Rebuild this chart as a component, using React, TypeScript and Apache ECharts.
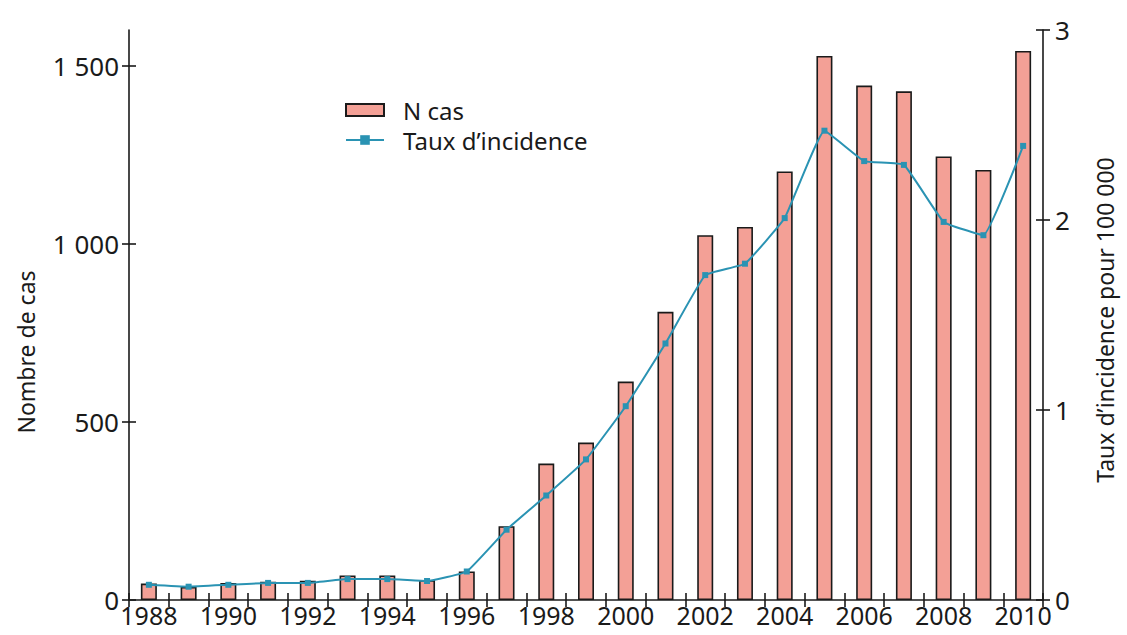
import React, { useEffect, useRef } from "react";
import * as echarts from "echarts";

const years = ["1988","1989","1990","1991","1992","1993","1994","1995","1996","1997","1998","1999","2000","2001","2002","2003","2004","2005","2006","2007","2008","2009","2010"];
const nCas = [46, 37, 48, 51, 54, 69, 69, 56, 80, 207, 383, 442, 613, 809, 1024, 1047, 1203, 1527, 1444, 1428, 1245, 1207, 1541];
const taux = [0.08, 0.07, 0.08, 0.09, 0.09, 0.11, 0.11, 0.10, 0.15, 0.37, 0.55, 0.74, 1.02, 1.35, 1.71, 1.77, 2.01, 2.47, 2.31, 2.29, 1.99, 1.92, 2.39];
const leftTicks = [0, 500, 1000, 1500];
const rightTicks = [0, 1, 2, 3];

const FONT = "Noto Sans";
const INK = "#1a1a1a";

export default function App() {
  const ref = useRef<HTMLDivElement>(null);
  useEffect(() => {
    if (!ref.current) return;
    const chart = echarts.init(ref.current, undefined, { renderer: "svg" });
    const axisLine = { show: true, lineStyle: { color: INK, width: 1.6 } };
    const fmt = (v: number) => String(v).replace(/\B(?=(\d{3})+(?!\d))/g, " ");
    chart.setOption({
      animation: false,
      textStyle: { fontFamily: FONT },
      grid: { left: 129, right: 84, top: 30, bottom: 35 },
      legend: {
        orient: "vertical",
        left: 340,
        top: 93,
        itemWidth: 38,
        itemHeight: 12,
        itemGap: 6,
        textStyle: { fontFamily: FONT, fontSize: 24, lineHeight: 24, color: INK, padding: [0, 0, 0, 14] },
        data: [
          { name: "N cas", icon: "rect" },
          { name: "Taux d’incidence" },
        ],
      },
      xAxis: [
        {
          type: "category",
          data: years,
          boundaryGap: true,
          axisLine,
          axisTick: { show: true, interval: 0, length: 7, lineStyle: { color: INK, width: 1.6 } },
          axisLabel: { interval: 1, fontSize: 25, lineHeight: 22, color: INK, margin: 4, fontFamily: FONT },
        },
        {
          type: "category",
          data: years,
          position: "bottom",
          boundaryGap: true,
          axisLine: { show: false },
          axisTick: { show: true, inside: true, interval: 0, length: 7, lineStyle: { color: INK, width: 1.6 } },
          axisLabel: { show: false },
        },
      ],
      yAxis: [
        {
          type: "value",
          position: "left",
          min: 0,
          max: 1600,
          interval: 500,
          splitLine: { show: false },
          axisLine,
          axisTick: { show: true, length: 7, customValues: leftTicks, lineStyle: { color: INK, width: 1.6 } },
          axisLabel: { customValues: leftTicks, fontSize: 26, color: INK, margin: 10, formatter: fmt, fontFamily: FONT },
        },
        {
          type: "value",
          position: "right",
          min: 0,
          max: 3,
          interval: 1,
          splitLine: { show: false },
          axisLine,
          axisTick: { show: true, length: 7, customValues: rightTicks, lineStyle: { color: INK, width: 1.6 } },
          axisLabel: { customValues: rightTicks, fontSize: 26, color: INK, margin: 12, fontFamily: FONT },
        },
        {
          type: "value",
          position: "left",
          min: 0,
          max: 1600,
          interval: 500,
          splitLine: { show: false },
          axisLine: { show: false },
          axisTick: { show: true, inside: true, length: 7, customValues: leftTicks, lineStyle: { color: INK, width: 1.6 } },
          axisLabel: { show: false },
        },
        {
          type: "value",
          position: "right",
          min: 0,
          max: 3,
          interval: 1,
          splitLine: { show: false },
          axisLine: { show: false },
          axisTick: { show: true, inside: true, length: 7, customValues: rightTicks, lineStyle: { color: INK, width: 1.6 } },
          axisLabel: { show: false },
        },
      ],
      graphic: [
        {
          type: "text",
          x: 26,
          y: 352,
          rotation: Math.PI / 2,
          style: { text: "Nombre de cas", font: `23px '${FONT}'`, fill: INK, textAlign: "center", textVerticalAlign: "middle" },
        },
        {
          type: "text",
          x: 1105,
          y: 320,
          rotation: Math.PI / 2,
          style: { text: "Taux d’incidence pour 100 000", font: `23px '${FONT}'`, fill: INK, textAlign: "center", textVerticalAlign: "middle" },
        },
      ],
      series: [
        {
          name: "N cas",
          type: "bar",
          xAxisIndex: 0,
          yAxisIndex: 0,
          data: nCas,
          barWidth: 16,
          itemStyle: { color: "#F3A096", borderColor: INK, borderWidth: 1.6 },
        },
        {
          name: "Taux d’incidence",
          type: "line",
          xAxisIndex: 0,
          yAxisIndex: 1,
          data: taux,
          smooth: 0.1,
          symbol: "rect",
          symbolSize: 6,
          lineStyle: { color: "#2A93B3", width: 2 },
          itemStyle: { color: "#2A93B3" },
        },
      ],
    });
    return () => chart.dispose();
  }, []);
  return (
    <div
      ref={ref}
      style={{ position: "absolute", left: 0, top: 0, width: 1127, height: 635, background: "#fff" }}
    />
  );
}
